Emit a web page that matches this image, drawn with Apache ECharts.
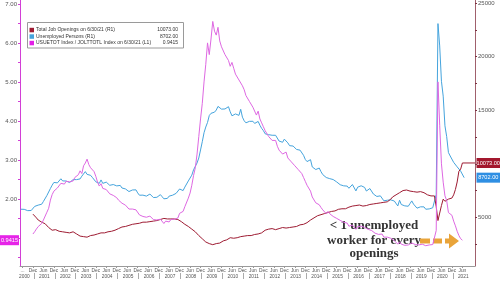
<!DOCTYPE html>
<html><head><meta charset="utf-8">
<script src="https://cdn.jsdelivr.net/npm/echarts@6/dist/echarts.min.js"></script>
<style>html,body{margin:0;padding:0;background:#fff}#c{width:500px;height:281px}</style>
</head><body><div id="c"></div>
<script>
// ---------------- DATA ----------------
const unemployedStart = [2000, 5];   // first month of unemployed series
const openingsStart = [2000, 12];    // first month of openings / ratio series

// Unemployed persons (thousands), monthly
const unemployed = [
  5758,5651,5747,5853,5625,5534,5639,5634,
  6023,6089,6141,6271,6226,6484,6583,7042,7142,7694,8003,8258,
  8182,8215,8304,8599,8399,8393,8390,8304,8251,8307,8520,8640,
  8520,8618,8588,8842,8957,9266,9011,8896,8921,8732,8576,8317,
  8370,8167,8491,8170,8212,8286,8136,7990,7927,8061,7932,7934,
  7784,7980,7737,7672,7651,7524,7406,7345,7553,7453,7566,7279,
  7064,7184,7072,7120,6980,7001,7175,7091,6847,6727,6872,6762,
  7116,6927,6731,6850,6766,6979,7149,7067,7170,7237,7240,7645,
  7685,7497,7822,7637,8395,8575,8937,9438,9494,10074,10538,11286,
  12058,12898,13426,13853,14499,14707,14601,14814,15009,15352,15219,15098,
  15046,15113,15202,15325,14849,14474,14512,14648,14579,14516,15081,14348,
  14013,13820,13737,13957,13855,13962,13763,13818,13948,13594,13302,13093,
  12797,12813,12713,12646,12660,12692,12656,12471,12115,12124,12005,12298,
  12471,11950,11689,11760,11654,11751,11335,11279,11270,11136,10787,10404,
  10202,10349,10380,9702,9859,9460,9608,9599,9262,8990,9090,8717,
  8903,8610,8504,8526,8640,8302,8252,8043,7925,7940,7954,7917,
  7713,7866,8061,7979,7466,7813,7802,7946,7982,7792,7456,7575,
  7688,7527,7177,7088,6949,6994,7006,7097,6546,6578,6597,6570,
  6629,6694,6522,6345,6063,6594,6197,6212,6071,6133,6036,6287,
  6534,6237,6184,5856,5955,5982,6095,5976,5756,5908,5787,5753,
  5892,5787,7140,23078,20993,17697,16308,13542,12535,11049,10728,10736,
  10130,9972,9710,9812,9316,9484,8702
];

// Total job openings (thousands), monthly
const jobOpenings = [
  5300,
  5200,4950,4750,4700,4550,4450,4400,4250,4050,3900,3800,3750,
  3850,3750,3700,3750,3650,3700,3600,3650,3550,3600,3650,3550,
  3450,3350,3250,3300,3200,3250,3150,3200,3300,3250,3350,3400,
  3450,3500,3550,3600,3550,3700,3650,3750,3700,3850,3800,3900,
  3950,4000,4100,4050,4150,4100,4250,4200,4350,4300,4400,4350,
  4450,4500,4550,4600,4550,4650,4600,4700,4650,4600,4700,4650,
  4800,4850,4900,4800,4850,4950,4850,4800,4850,4750,4800,4700,
  4600,4450,4350,4300,4150,4050,3900,3800,3650,3500,3300,3150,
  3000,2850,2700,2600,2550,2500,2450,2500,2550,2500,2600,2650,
  2800,2750,2900,3000,3100,2950,3050,3200,3100,3250,3200,3300,
  3250,3350,3300,3400,3300,3450,3400,3500,3450,3400,3550,3500,
  3800,3750,3900,3850,3950,3900,3850,4000,3950,3900,4050,4000,
  4000,4100,4050,4150,4100,4200,4150,4250,4300,4200,4350,4300,
  4500,4600,4750,4850,4950,5050,5150,5100,5250,5300,5350,5400,
  5450,5500,5550,5650,5600,5700,5750,5700,5800,5850,5800,5900,
  5950,6000,6050,6000,6100,6050,6150,6100,6050,6150,6100,6200,
  6200,6300,6250,6350,6300,6400,6350,6450,6400,6500,6450,6600,
  6700,6900,7000,7100,7200,7300,7400,7500,7450,7550,7400,7450,
  7500,7400,7450,7350,7300,7400,7250,7300,7200,7100,7050,7000,
  7100,7000,6000,4700,5400,6100,6700,6500,6400,6700,6600,6800,
  7100,7600,8300,9300,9500,10073
];

// USUETOT / JOLTTOTL ratio, monthly
const ratio = [
  1.10,
  1.16,1.23,1.29,1.33,1.37,1.46,1.50,1.66,1.76,1.97,2.11,2.20,
  2.20,2.28,2.33,2.40,2.42,2.38,2.45,2.40,2.44,2.42,2.46,2.55,
  2.55,2.62,2.72,2.65,2.85,2.92,3.02,2.88,2.80,2.84,2.70,2.58,
  2.43,2.33,2.39,2.27,2.31,2.24,2.23,2.13,2.14,2.09,2.09,2.03,
  1.97,2.00,1.89,1.89,1.84,1.84,1.74,1.75,1.74,1.73,1.72,1.67,
  1.59,1.60,1.55,1.55,1.53,1.51,1.56,1.51,1.47,1.46,1.46,1.45,
  1.48,1.43,1.37,1.43,1.40,1.41,1.47,1.47,1.48,1.52,1.51,1.63,
  1.67,1.68,1.80,1.78,2.02,2.15,2.35,2.60,2.80,3.15,3.60,4.05,
  4.45,5.00,5.45,6.00,5.70,6.10,6.55,6.30,6.20,6.40,6.05,5.90,
  5.85,5.70,5.75,5.55,5.40,5.50,5.35,5.20,5.25,5.05,5.10,4.90,
  4.80,4.65,4.70,4.50,4.55,4.35,4.40,4.15,4.25,4.05,3.95,3.85,
  3.75,3.80,3.60,3.55,3.50,3.45,3.50,3.35,3.25,3.30,3.15,3.20,
  3.20,3.05,3.00,2.95,2.90,2.85,2.80,2.75,2.70,2.65,2.55,2.45,
  2.35,2.30,2.20,2.05,2.00,1.90,1.88,1.85,1.78,1.72,1.70,1.62,
  1.68,1.62,1.60,1.55,1.57,1.50,1.48,1.45,1.42,1.40,1.42,1.38,
  1.30,1.31,1.33,1.33,1.22,1.29,1.27,1.30,1.32,1.27,1.22,1.22,
  1.24,1.19,1.15,1.12,1.10,1.09,1.10,1.10,1.02,1.01,1.02,1.00,
  0.99,0.97,0.93,0.89,0.84,0.90,0.84,0.83,0.81,0.81,0.82,0.84,
  0.87,0.84,0.83,0.80,0.82,0.81,0.84,0.82,0.80,0.83,0.82,0.82,
  0.83,0.83,1.19,5.00,3.89,2.90,2.43,2.08,1.96,1.65,1.63,1.58,
  1.43,1.31,1.17,1.06,0.98,0.9415
];

const legendNames = [
  'Total Job Openings on 6/30/21 (R1)',
  'Unemployed Persons (R1)',
  'USUETOT Index / JOLTTOTL Index on 6/30/21 (L1)'
];
const legendValues = ['10073.00', '8702.00', '0.9415'];
const lastLabels = ['10073.00', '8702.00', '0.9415'];
const leftLabelValues = [2, 3, 4, 5, 6, 7];
const leftTickValues = [0.5,1,1.5,2,2.5,3,3.5,4,4.5,5,5.5,6,6.5,7];
const rightLabelValues = [5000, 15000, 20000, 25000];
const rightTickValues = [2500,5000,7500,10000,12500,15000,17500,20000,22500,25000];
const yearLabels = ['2000','2001','2002','2003','2004','2005','2006','2007','2008','2009','2010',
  '2011','2012','2013','2014','2015','2016','2017','2018','2019','2020','2021'];
const noteLines = ['< 1 unemployed', 'worker for every', 'openings'];

// ---------------- BUILD ----------------
const COL_RED = '#9e1b32', COL_BLUE = '#45a4dd', COL_MAG = '#de68e2';
const X_MIN = 2000.34, X_MAX = 2022.06;

function toPairs(start, arr) {
  return arr.map((v, i) => {
    const m = start[1] - 1 + i;
    return [start[0] + Math.floor(m / 12) + ((m % 12) + 0.5) / 12, v];
  });
}
const monthPos = [];
yearLabels.forEach(y => {
  const yr = +y;
  monthPos.push(yr + 5.5 / 12);
  monthPos.push(yr + 11.5 / 12);
});
const monthVals = monthPos.filter(v => v > X_MIN && v < 2021.6);
const yearPos = yearLabels.map((y, i) => i === 0 ? +y + 0.55 : +y + 0.5);
const yearSep = yearLabels.slice(1).map(y => +y);

const dRed = toPairs(openingsStart, jobOpenings);
const dBlue = toPairs(unemployedStart, unemployed);
const dMag = toPairs(openingsStart, ratio);

const axisFont = {fontFamily: 'Liberation Sans', fontSize: 6, color: '#555'};

const chart = echarts.init(document.getElementById('c'), null, {renderer: 'canvas'});
const option = {
  animation: false,
  backgroundColor: '#fff',
  grid: {left: 20, right: 25, top: 0, bottom: 15},
  xAxis: [{
    type: 'value', min: X_MIN, max: X_MAX, position: 'bottom',
    axisLine: {show: true, lineStyle: {color: '#9a9a9a', width: 1}},
    axisTick: {show: true, customValues: monthVals, length: 2, lineStyle: {color: '#999'}},
    axisLabel: {
      customValues: monthVals, margin: 2, fontSize: 4.8, color: '#555', fontFamily: 'Liberation Sans',
      hideOverlap: false,
      formatter: v => (v < 2001 && v % 1 < 0.6) ? '...' : ((v % 1) < 0.6 ? 'Jun' : 'Dec')
    },
    splitLine: {show: false}
  }, {
    type: 'value', min: X_MIN, max: X_MAX, position: 'bottom', offset: 7,
    axisLine: {show: false},
    axisTick: {show: true, customValues: yearSep, length: 6, lineStyle: {color: '#aaa'}},
    axisLabel: {
      customValues: yearPos, margin: 1, fontSize: 4.8, color: '#555', fontFamily: 'Liberation Sans',
      hideOverlap: false,
      formatter: v => String(Math.floor(v))
    },
    splitLine: {show: false}
  }],
  yAxis: [{
    type: 'value', min: 0.28, max: 7.1, position: 'left',
    axisLine: {show: true, lineStyle: {color: '#d23fd6', width: 1}},
    axisTick: {show: true, customValues: leftTickValues, length: 2, lineStyle: {color: '#d23fd6'}},
    axisLabel: Object.assign({customValues: leftLabelValues, margin: 3, formatter: v => v.toFixed(2)}, axisFont),
    splitLine: {show: false}
  }, {
    type: 'value', min: 460, max: 25280, position: 'right',
    axisLine: {show: true, lineStyle: {color: '#a0606c', width: 1}},
    axisTick: {show: true, customValues: rightTickValues, length: 2, lineStyle: {color: '#7a3040'}},
    axisLabel: Object.assign({customValues: rightLabelValues, margin: 3, formatter: v => String(v)}, axisFont),
    splitLine: {show: false}
  }],
  series: [
    {name: legendNames[1], type: 'line', xAxisIndex: 0, yAxisIndex: 1, data: dBlue, showSymbol: false,
      lineStyle: {color: COL_BLUE, width: 1}, clip: true, z: 2},
    {name: legendNames[0], type: 'line', xAxisIndex: 0, yAxisIndex: 1, data: dRed, showSymbol: false,
      lineStyle: {color: COL_RED, width: 1}, clip: true, z: 3},
    {name: legendNames[2], type: 'line', xAxisIndex: 0, yAxisIndex: 0, data: dMag, showSymbol: false,
      lineStyle: {color: COL_MAG, width: 1}, clip: true, z: 4}
  ]
};
chart.setOption(option);

// ---------------- GRAPHICS (labels, legend, annotation) ----------------
const lastRed = dRed[dRed.length - 1];
const lastBlue = dBlue[dBlue.length - 1];
const lastMag = dMag[dMag.length - 1];
const pRed = chart.convertToPixel({xAxisIndex: 0, yAxisIndex: 1}, lastRed);
const pBlue = chart.convertToPixel({xAxisIndex: 0, yAxisIndex: 1}, lastBlue);
const pMag = chart.convertToPixel({xAxisIndex: 0, yAxisIndex: 0}, lastMag);
const axisRightX = chart.convertToPixel({xAxisIndex: 0}, X_MAX);
const axisLeftX = chart.convertToPixel({xAxisIndex: 0}, X_MIN);

function valueTag(x, y, w, bg, txt) {
  return {
    type: 'group', x: x, y: y, children: [
      {type: 'rect', shape: {x: 0, y: -5, width: w, height: 10}, style: {fill: bg}},
      {type: 'text', x: w / 2, y: 0, style: {text: txt, fill: '#fff', font: '5.6px "Liberation Sans"', align: 'center', verticalAlign: 'middle'}}
    ]
  };
}

const legendRows = [30, 36.5, 43];
const legendCols = [COL_RED, COL_BLUE, '#e21ee6'];
const legendChildren = [
  {type: 'rect', shape: {x: 27.5, y: 22.5, width: 156, height: 25.5}, style: {fill: '#fff', stroke: '#9a9a9a', lineWidth: 1}}
];
legendRows.forEach((ry, i) => {
  legendChildren.push({type: 'rect', shape: {x: 29.5, y: ry - 2.2, width: 4.5, height: 4.5}, style: {fill: legendCols[i]}});
  legendChildren.push({type: 'text', x: 36, y: ry, style: {text: legendNames[i], fill: '#333', font: '5px "Liberation Sans"', align: 'left', verticalAlign: 'middle'}});
  legendChildren.push({type: 'text', x: 178, y: ry, style: {text: legendValues[i], fill: '#333', font: '5px "Liberation Sans"', align: 'right', verticalAlign: 'middle'}});
});

const noteY = [226, 240.5, 254];
const noteChildren = [];
noteLines.forEach((t, i) => {
  noteChildren.push({type: 'text', x: 374, y: noteY[i], style: {text: t, fill: '#fff', stroke: '#fff', lineWidth: 3, font: 'bold 13px "Liberation Serif"', align: 'center', verticalAlign: 'middle'}});
});
noteLines.forEach((t, i) => {
  noteChildren.push({type: 'text', x: 374, y: noteY[i], style: {text: t, fill: '#333', font: 'bold 13px "Liberation Serif"', align: 'center', verticalAlign: 'middle'}});
});
const ORANGE = '#e9a43a';
noteChildren.push({type: 'rect', shape: {x: 420, y: 238.5, width: 10, height: 5}, style: {fill: ORANGE}});
noteChildren.push({type: 'rect', shape: {x: 433, y: 238.5, width: 9, height: 5}, style: {fill: ORANGE}});
noteChildren.push({type: 'polygon', shape: {points: [[445, 238.5], [449, 238.5], [449, 233.5], [459, 241], [449, 248.5], [449, 243.5], [445, 243.5]]}, style: {fill: ORANGE}});

chart.setOption({
  graphic: [
    {type: 'line', shape: {x1: pRed[0], y1: pRed[1], x2: axisRightX, y2: pRed[1]}, style: {stroke: COL_RED, lineWidth: 1}, z: 10},
    valueTag(axisRightX + 1.5, pRed[1], 23.5, '#a3182e', lastLabels[0]),
    valueTag(axisRightX + 1.5, pBlue[1], 23.5, '#2f8fe3', lastLabels[1]),
    valueTag(0, pMag[1], axisLeftX - 1, '#e624e8', lastLabels[2]),
    {type: 'group', children: legendChildren, z: 20},
    {type: 'group', children: noteChildren, z: 20}
  ]
});
</script>
</body></html>
